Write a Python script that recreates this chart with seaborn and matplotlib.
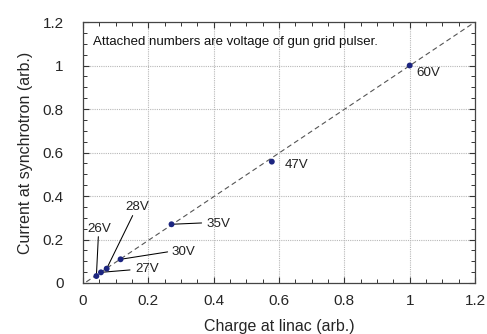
import matplotlib
matplotlib.use("Agg")
import matplotlib.pyplot as plt
import seaborn as sns
import pandas as pd
import numpy as np
from matplotlib.ticker import MultipleLocator, FuncFormatter

# ---- data ----
charge = [0.041, 0.055, 0.0725, 0.115, 0.271, 0.578, 1.0]
current = [0.032, 0.049, 0.066, 0.109, 0.270, 0.558, 1.0]
voltages = ["26V", "27V", "28V", "30V", "35V", "47V", "60V"]
# label text anchor (left, centre) in data units
label_x = [0.012, 0.159, 0.129, 0.272, 0.379, 0.616, 1.019]
label_y = [0.249, 0.064, 0.351, 0.143, 0.270, 0.544, 0.967]
# leader-line end (text side); None = no leader
leader_x = [0.047, 0.144, 0.152, 0.259, 0.363, None, None]
leader_y = [0.213, 0.060, 0.310, 0.143, 0.276, None, None]
fit_x = [0.01, 1.19]
fit_y = [0.005, 1.19]
note = "Attached numbers are voltage of gun grid pulser."

df = pd.DataFrame({"charge": charge, "current": current, "label": voltages})
fit = pd.DataFrame({"x": fit_x, "y": fit_y})

sns.set_theme(style="ticks")
plt.rcParams['font.family'] = ['Liberation Sans', 'DejaVu Sans']

fig = plt.figure(figsize=(4.87, 3.34), dpi=100)
ax = fig.add_axes([0.1704, 0.1527, 0.8050, 0.7814])

ax.grid(True, color="#b8b8b8", linestyle=(0, (1, 1)), linewidth=0.8)
ax.set_axisbelow(True)

sns.lineplot(data=fit, x="x", y="y", ax=ax, color="#555555",
             linestyle=(0, (4.5, 3)), linewidth=0.8, zorder=2)

for i in range(len(charge)):
    if leader_x[i] is not None:
        ax.plot([charge[i], leader_x[i]], [current[i], leader_y[i]],
                color="black", linewidth=0.75, zorder=3)
    ax.text(label_x[i], label_y[i], voltages[i], ha="left", va="center",
            fontsize=9.6, color="#222222")

sns.scatterplot(data=df, x="charge", y="current", ax=ax, color="#1c2580",
                s=18, edgecolor="none", zorder=4)

ax.text(0.031, 1.109, note, ha="left", va="center", fontsize=9.5,
        color="#111111")

ax.set_xlim(0, 1.2)
ax.set_ylim(0, 1.2)
ax.xaxis.set_major_locator(MultipleLocator(0.2))
ax.yaxis.set_major_locator(MultipleLocator(0.2))
ax.xaxis.set_minor_locator(MultipleLocator(0.05))
ax.yaxis.set_minor_locator(MultipleLocator(0.05))
fmt = FuncFormatter(lambda v, p: f"{v:.1f}".rstrip("0").rstrip(".") if abs(v) > 1e-9 else "0")
ax.xaxis.set_major_formatter(fmt)
ax.yaxis.set_major_formatter(fmt)

ax.tick_params(which="both", direction="in", top=True, right=True,
               color="#333333")
ax.tick_params(which="major", length=4.5, width=0.8, labelsize=11)
ax.tick_params(which="minor", length=2.7, width=0.7)
ax.tick_params(axis="x", which="major", pad=8)
ax.tick_params(axis="y", which="major", pad=14)

for s in ax.spines.values():
    s.set_color("#444444")
    s.set_linewidth(0.9)

ax.set_xlabel("Charge at linac (arb.)", fontsize=11.5, labelpad=8)
ax.set_ylabel("Current at synchrotron (arb.)", fontsize=11.5, labelpad=7)

fig.savefig("out.png", dpi=100, facecolor="white")
